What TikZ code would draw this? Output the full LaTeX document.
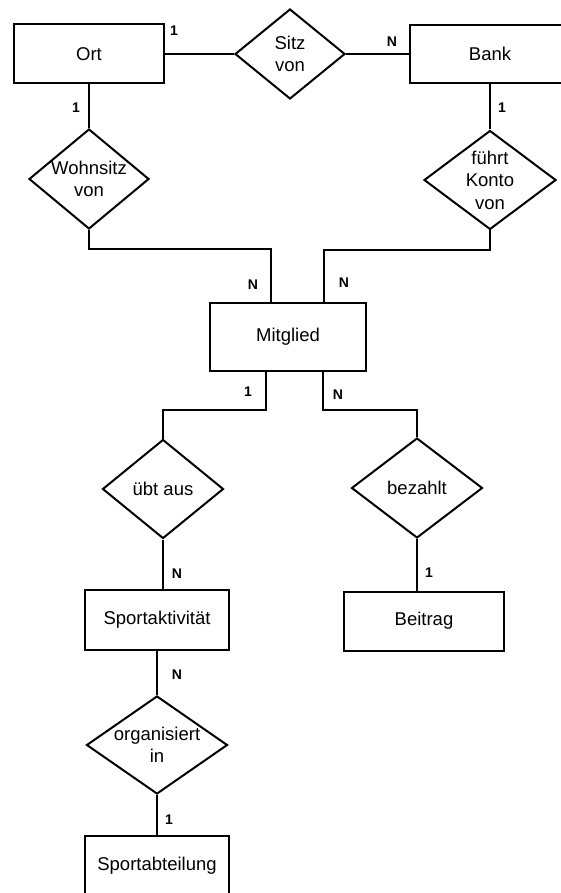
\documentclass[tikz,border=0pt]{standalone}
\usepackage{fontspec}
\setmainfont{Liberation Sans}
\usetikzlibrary{shapes.geometric}

\tikzset{
  entity/.style={draw, line width=2pt, rectangle, inner sep=0pt, font=\fontsize{18.5}{22}\selectfont},
  relation/.style={draw, line width=2pt, diamond, inner sep=0pt},
  reltext/.style={font=\fontsize{18.5}{22.5}\selectfont, align=center, inner sep=0pt},
  card/.style={font=\fontsize{14}{16}\selectfont\bfseries, inner sep=0pt},
  link/.style={line width=2pt},
}

\begin{document}
\begin{tikzpicture}[x=1pt, y=-1pt]
	\useasboundingbox (0,0) rectangle (561,893);

	% Entitaeten
	\node[entity, minimum width=150, minimum height=59] (ort) at (89,54) {Ort};
	\node[entity, minimum width=160, minimum height=58] (bank) at (490,54) {Bank};
	\node[entity, minimum width=156, minimum height=68] (mitglied) at (288,337) {Mitglied};
	\node[entity, minimum width=144, minimum height=60] (sportakt) at (157,620) {Sportaktivität};
	\node[entity, minimum width=160, minimum height=59] (beitrag) at (424,621) {Beitrag};
	\node[entity, minimum width=144, minimum height=60] (sportabt) at (157,866) {Sportabteilung};

	% Beziehungen
	\node[relation, minimum width=110, minimum height=90,
	      label={[reltext]center:Sitz\\von}] (sitz) at (290,54) {};
	\node[relation, minimum width=120, minimum height=100,
	      label={[reltext]center:Wohnsitz\\von}] (wohnsitz) at (89,179) {};
	\node[relation, minimum width=132, minimum height=99,
	      label={[reltext]center:führt\\Konto\\von}] (fuehrt) at (490,180) {};
	\node[relation, minimum width=121, minimum height=99,
	      label={[reltext]center:übt aus}] (uebt) at (163,489) {};
	\node[relation, minimum width=131, minimum height=100,
	      label={[reltext]center:bezahlt}] (bezahlt) at (417,488) {};
	\node[relation, minimum width=141, minimum height=98,
	      label={[reltext]center:organisiert\\in}] (organisiert) at (157,745) {};

	% Knickpunkte
	\coordinate (kwl) at (271,249);
	\coordinate (kfr) at (324,250);
	\coordinate (kul) at (266,410);
	\coordinate (kur) at (323,410);

	% Verbindungen
	\draw[link] (ort.east) -- (sitz.west);
	\draw[link] (sitz.east) -- (bank.west);
	\draw[link] (ort.south) -- (wohnsitz.north);
	\draw[link] (bank.south) -- (fuehrt.north);
	\draw[link] (wohnsitz.south) |- (kwl) -- (kwl |- mitglied.north);
	\draw[link] (fuehrt.south) |- (kfr) -- (kfr |- mitglied.north);
	\draw[link] (kul |- mitglied.south) -- (kul) -| (uebt.north);
	\draw[link] (kur |- mitglied.south) -- (kur) -| (bezahlt.north);
	\draw[link] (uebt.south) -- (uebt.south |- sportakt.north);
	\draw[link] (bezahlt.south) -- (bezahlt.south |- beitrag.north);
	\draw[link] (sportakt.south) -- (organisiert.north);
	\draw[link] (organisiert.south) -- (sportabt.north);

	% Kardinalitaeten
	\node[card] (k1) at (174,31) {1};
	\node[card] (k2) at (392,42) {N};
	\node[card] (k3) at (76,108) {1};
	\node[card] (k4) at (502,108) {1};
	\node[card] (k5) at (253,285) {N};
	\node[card] (k6) at (344,283) {N};
	\node[card] (k7) at (248,392) {1};
	\node[card] (k8) at (338,395) {N};
	\node[card] (k9) at (177,574) {N};
	\node[card] (k10) at (429,573) {1};
	\node[card] (k11) at (177,675) {N};
	\node[card] (k12) at (169,820) {1};
\end{tikzpicture}
\end{document}
